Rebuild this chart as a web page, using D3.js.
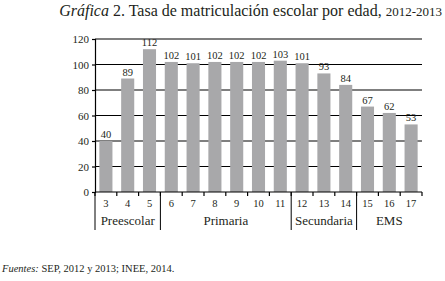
<!DOCTYPE html>
<html>
<head>
<meta charset="utf-8">
<script src="https://cdn.jsdelivr.net/npm/d3@7"></script>
<style>
  body { margin: 0; background: #fff; }
  svg text { font-family: "Liberation Serif", "DejaVu Serif", serif !important; fill: #231f20; }
</style>
</head>
<body>
<div id="chart"></div>
<script>
// data
var ages = ["3", "4", "5", "6", "7", "8", "9", "10", "11", "12", "13", "14", "15", "16", "17"];
var rates = [40, 89, 112, 102, 101, 102, 102, 102, 103, 101, 93, 84, 67, 62, 53];
var levels = ["Preescolar", "Primaria", "Secundaria", "EMS"];
var levelSpans = [[0, 3], [3, 9], [9, 12], [12, 15]];
var yTicks = [0, 20, 40, 60, 80, 100, 120];

var W = 445, H = 281;
var margin = {top: 39, right: 23, bottom: 89, left: 95},
    width = W - margin.left - margin.right,
    height = H - margin.top - margin.bottom;

var svgRoot = d3.select("#chart")
  .append("svg")
    .attr("width", W)
    .attr("height", H);

// title
var title = svgRoot.append("text")
    .attr("x", 442)
    .attr("y", 16)
    .attr("text-anchor", "end")
    .style("font-size", "16px");
title.append("tspan").style("font-style", "italic").text("Gráfica");
title.append("tspan").text(" 2. Tasa de matriculación escolar por edad, ");
title.append("tspan").style("font-size", "13px").text("2012-2013");

var svg = svgRoot.append("g")
    .attr("transform", "translate(" + margin.left + "," + margin.top + ")");

var x = d3.scaleBand()
  .domain(ages)
  .range([0, width])
  .paddingInner(0.4)
  .paddingOuter(0.2);

var y = d3.scaleLinear()
  .domain([0, 120])
  .range([height, 0]);

// gridlines
svg.selectAll("grid")
  .data(yTicks.slice(1))
  .enter()
  .append("line")
    .attr("x1", 0)
    .attr("x2", width)
    .attr("y1", function(d) { return y(d); })
    .attr("y2", function(d) { return y(d); })
    .attr("stroke", "#000")
    .attr("stroke-width", 1.2);

// Y axis
var yAxis = svg.append("g")
  .call(d3.axisLeft(y).tickValues(yTicks).tickSize(3).tickPadding(3));
yAxis.attr("font-family", null);
yAxis.select(".domain").attr("stroke", "#000").attr("stroke-width", 1.2);
yAxis.selectAll("line").attr("stroke", "#000").attr("stroke-width", 1.2);
yAxis.selectAll("text").style("font-size", "11px").attr("fill", "#231f20");

// bars
svg.selectAll("bars")
  .data(rates)
  .enter()
  .append("rect")
    .attr("x", function(d, i) { return x(ages[i]); })
    .attr("y", function(d) { return y(d); })
    .attr("width", x.bandwidth())
    .attr("height", function(d) { return height - y(d); })
    .attr("fill", "#a8a8aa");

// value labels
svg.selectAll("vals")
  .data(rates)
  .enter()
  .append("text")
    .attr("x", function(d, i) { return x(ages[i]) + x.bandwidth() / 2; })
    .attr("y", function(d) { return y(d) - 3; })
    .attr("text-anchor", "middle")
    .style("font-size", "10.5px")
    .text(function(d) { return d; });

// x axis line
svg.append("line")
  .attr("x1", 0).attr("x2", width)
  .attr("y1", height).attr("y2", height)
  .attr("stroke", "#000").attr("stroke-width", 1.2);

// small ticks at band edges
var step = x.step();
var edges = d3.range(ages.length + 1).map(function(i) { return i * step; });
svg.selectAll("xticks")
  .data(edges)
  .enter()
  .append("line")
    .attr("x1", function(d) { return d; })
    .attr("x2", function(d) { return d; })
    .attr("y1", height)
    .attr("y2", height + 4)
    .attr("stroke", "#000")
    .attr("stroke-width", 1.2);

// age labels
svg.selectAll("ages")
  .data(ages)
  .enter()
  .append("text")
    .attr("x", function(d) { return x(d) + x.bandwidth() / 2; })
    .attr("y", height + 15)
    .attr("text-anchor", "middle")
    .style("font-size", "10.5px")
    .text(function(d) { return d; });

// level separators
svg.selectAll("seps")
  .data(levelSpans.map(function(s) { return s[0]; }))
  .enter()
  .append("line")
    .attr("x1", function(d) { return d * step; })
    .attr("x2", function(d) { return d * step; })
    .attr("y1", height)
    .attr("y2", height + 38)
    .attr("stroke", "#000")
    .attr("stroke-width", 1);

// level labels
svg.selectAll("levels")
  .data(levels)
  .enter()
  .append("text")
    .attr("x", function(d, i) { return (levelSpans[i][0] + levelSpans[i][1]) / 2 * step; })
    .attr("y", height + 33)
    .attr("text-anchor", "middle")
    .style("font-size", "13px")
    .text(function(d) { return d; });

// source note
var src = svgRoot.append("text")
    .attr("x", 2)
    .attr("y", 272)
    .style("font-size", "10.5px");
src.append("tspan").style("font-style", "italic").text("Fuentes:");
src.append("tspan").text(" SEP, 2012 y 2013; INEE, 2014.");
</script>
</body>
</html>
